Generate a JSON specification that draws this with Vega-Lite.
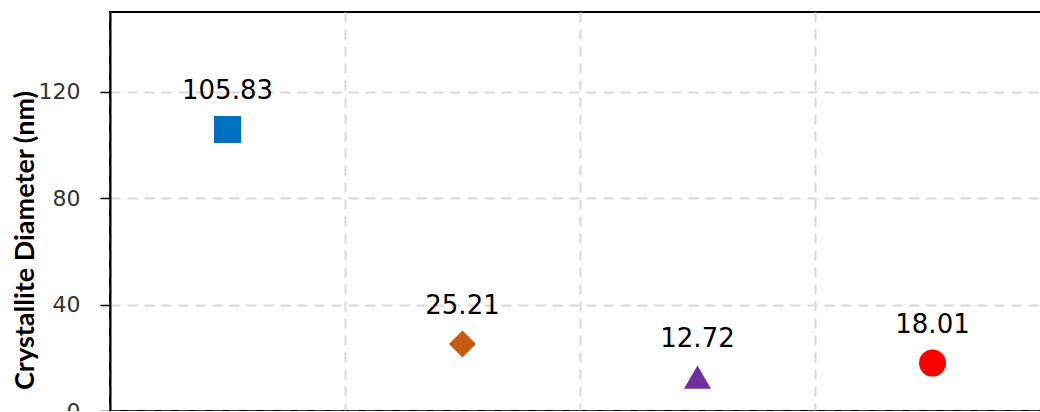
{
  "$schema": "https://vega.github.io/schema/vega-lite/v6.json",
  "autosize": {"type": "none"},
  "padding": {"left": 110, "top": 12, "right": 0, "bottom": 0},
  "width": 940,
  "height": 399,
  "background": "white",
  "config": {
    "view": {"stroke": "black", "strokeWidth": 2},
    "axis": {"gridColor": "#d9d9d9", "gridDash": [10, 7], "gridWidth": 2}
  },
  "data": {
    "values": [
      {"sample": "Sample 1", "diameter": 105.83},
      {"sample": "Sample 2", "diameter": 25.21},
      {"sample": "Sample 3", "diameter": 12.72},
      {"sample": "Sample 4", "diameter": 18.01}
    ]
  },
  "encoding": {
    "x": {
      "field": "sample",
      "type": "nominal",
      "sort": null,
      "scale": {"paddingInner": 0, "paddingOuter": 0},
      "axis": {
        "title": null,
        "labels": false,
        "tickBand": "extent",
        "grid": true,
        "ticks": false,
        "domainColor": "black",
        "domainWidth": 2
      }
    },
    "y": {
      "field": "diameter",
      "type": "quantitative",
      "scale": {"domain": [0, 150], "nice": false},
      "axis": {
        "title": "Crystallite Diameter (nm)",
        "values": [0, 40, 80, 120],
        "grid": true,
        "domainColor": "black",
        "domainWidth": 2,
        "tickColor": "black",
        "tickWidth": 1.5,
        "tickSize": 10,
        "labelPadding": 20,
        "labelFont": "DejaVu Sans",
        "labelFontSize": 22,
        "labelColor": "#333333",
        "titleFont": "Lato",
        "titleFontSize": 27,
        "titleFontWeight": "bold",
        "titleColor": "black",
        "titleAngle": -90,
        "titleAlign": "center",
        "titleBaseline": "alphabetic",
        "titleX": -77,
        "titleY": 228
      }
    }
  },
  "layer": [
    {
      "mark": {"type": "point", "filled": true, "opacity": 1},
      "encoding": {
        "shape": {
          "field": "sample",
          "type": "nominal",
          "scale": {"range": ["square", "diamond", "triangle-up", "circle"]},
          "legend": null
        },
        "color": {
          "field": "sample",
          "type": "nominal",
          "scale": {"range": ["#0070C0", "#C55A11", "#7030A0", "#FF0000"]},
          "legend": null
        },
        "size": {
          "field": "sample",
          "type": "ordinal",
          "scale": {"range": [729, 729, 680, 640]},
          "legend": null
        }
      }
    },
    {
      "mark": {"type": "text", "baseline": "alphabetic", "dy": -30, "font": "DejaVu Sans", "fontSize": 26, "color": "black"},
      "encoding": {
        "text": {"field": "diameter", "type": "quantitative", "format": ".2f"}
      }
    }
  ]
}
